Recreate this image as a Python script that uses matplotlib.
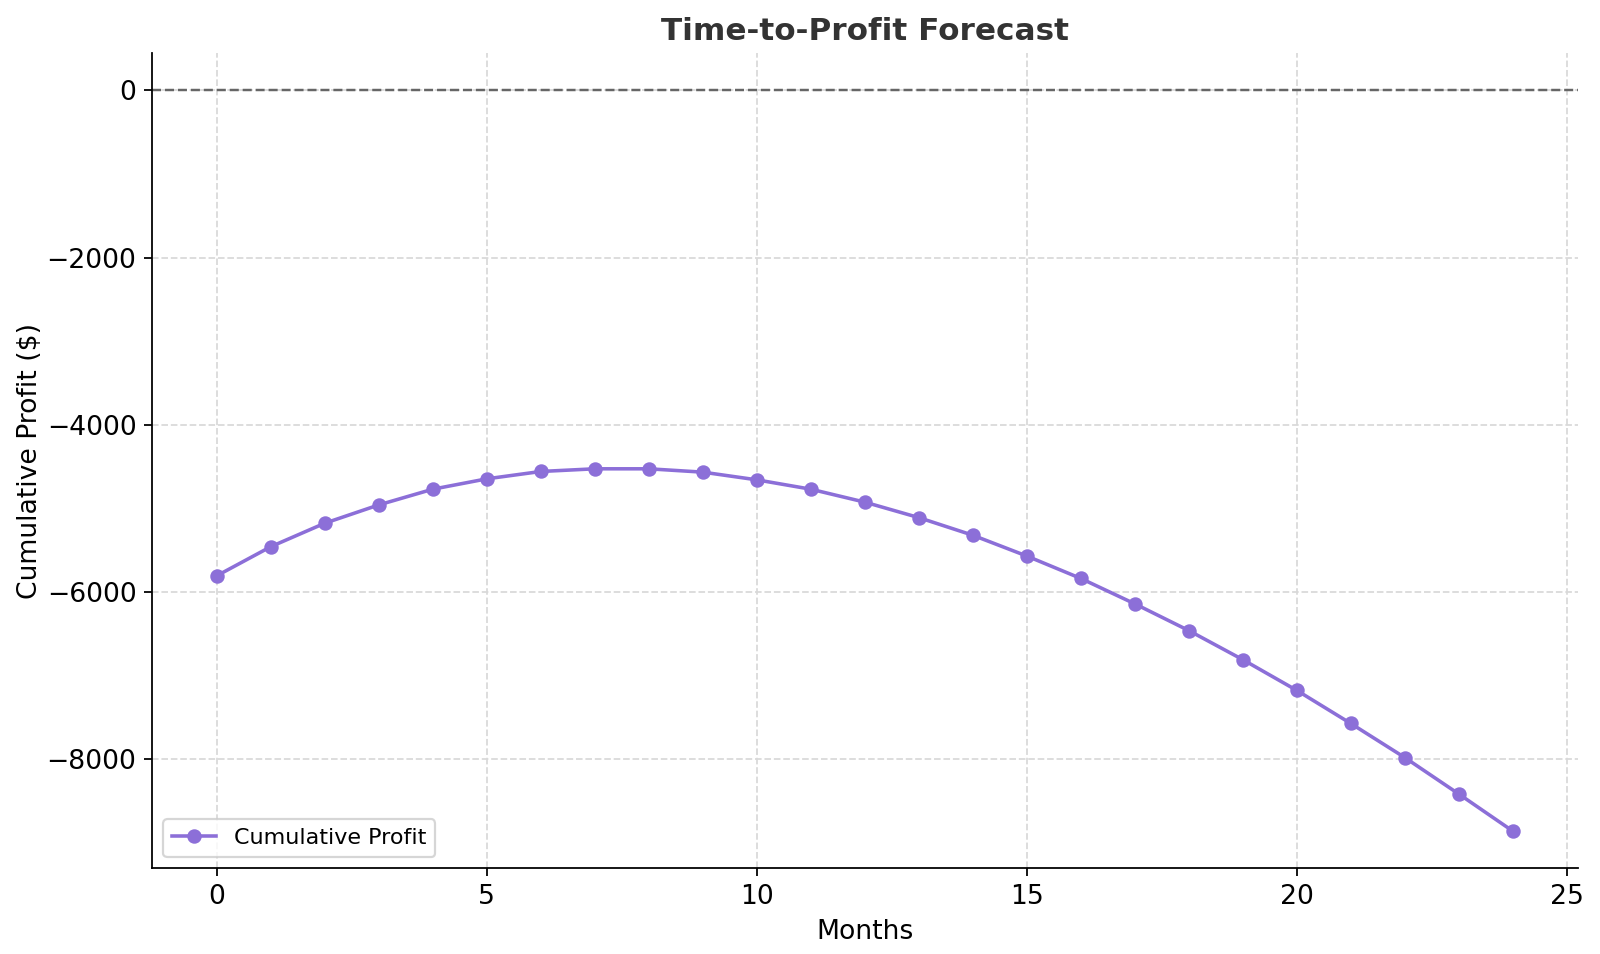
import numpy as np
import matplotlib
matplotlib.use("Agg")
import matplotlib.pyplot as plt

# months and cumulative profit
months = list(range(25))
cum_profit = [-5808, -5460, -5179, -4960, -4772, -4648, -4560, -4528, -4528,
              -4568, -4660, -4772, -4927, -5112, -5323, -5572, -5840, -6144,
              -6464, -6812, -7180, -7576, -7984, -8420, -8864]

fig, ax = plt.subplots(figsize=(10, 5.9625), dpi=160)
fig.subplots_adjust(left=0.095, right=0.986, top=0.944, bottom=0.09)

ax.plot(months, cum_profit, marker="o", color="#8c6fd8", linewidth=1.6,
        markersize=5.5, label="Cumulative Profit")
ax.axhline(0, color="#666666", linestyle="--", linewidth=1.1)

ax.set_title("Time-to-Profit Forecast", fontsize=14, fontweight="bold", color="#333333")
ax.set_xlabel("Months", fontsize=12)
ax.set_ylabel("Cumulative Profit ($)", fontsize=12, labelpad=1.5)
ax.tick_params(labelsize=12)
ax.grid(True, linestyle="--", color="#d9d9d9", linewidth=0.8)
ax.spines["top"].set_visible(False)
ax.spines["right"].set_visible(False)
ax.legend(loc="lower left", fontsize=10)

fig.savefig("out.png", dpi=160)
